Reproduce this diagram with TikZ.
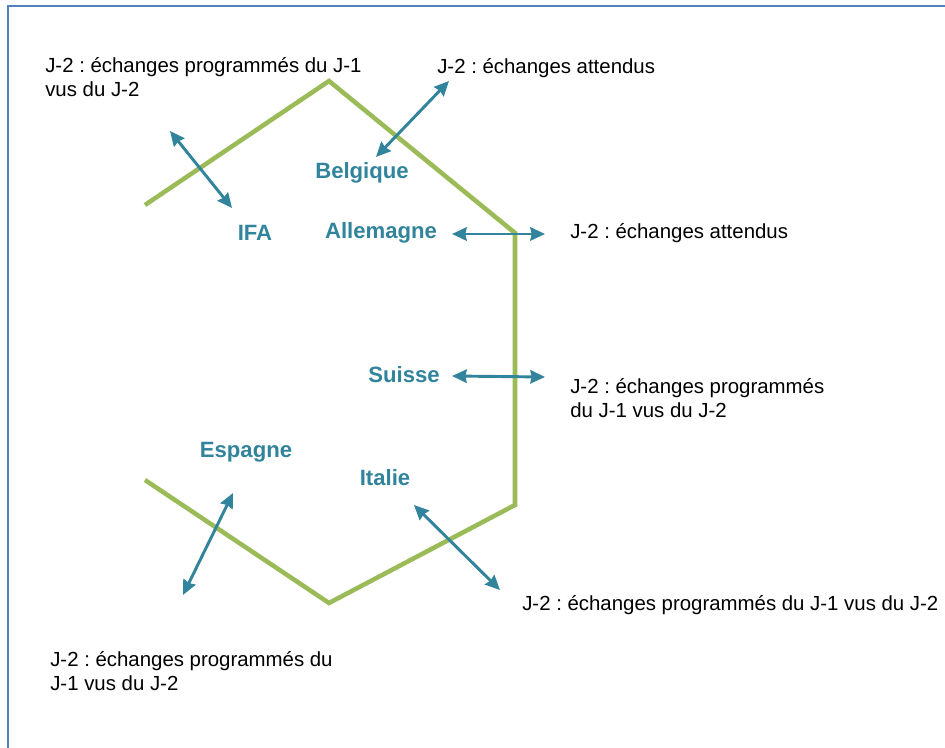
\documentclass[tikz,border=0pt]{standalone}
\usepackage{fontspec}
\setmainfont{Liberation Sans}
\usetikzlibrary{arrows.meta}
\definecolor{frameblue}{HTML}{4F81BD}
\definecolor{lineGreen}{HTML}{9BBB59}
\definecolor{teal}{HTML}{31849B}
\begin{document}
\begin{tikzpicture}[x=0.75pt,y=-0.75pt,
  country/.style={font=\fontsize{16.6}{19}\selectfont\bfseries, text=teal, inner sep=0pt},
  note/.style={font=\fontsize{15.3}{17.5}\selectfont, text=black, inner sep=0pt, align=left, anchor=west},
  flow/.style={draw=teal, line width=2.2pt, {Stealth[length=11pt,width=10pt,inset=1pt]}-{Stealth[length=11pt,width=10pt,inset=1pt]}},
  border/.style={draw=frameblue, line width=1.1pt}
]
\useasboundingbox (0,0) rectangle (945,748);
\fill[white] (0,0) rectangle (945,748);
\draw[border] (8,6) rectangle (980,780);

% green borders
\draw[lineGreen, line width=3.4pt, line join=miter] (145,205) -- (329,81) -- (515,233) -- (515,505) -- (329,603) -- (145,480);

% countries
\node[country] (bel) at (362,173) {Belgique};
\node[country] (ifa) at (255,233) {IFA};
\node[country] (all) at (381,233) {Allemagne};
\node[country] (sui) at (404,375) {Suisse};
\node[country] (esp) at (246,452) {Espagne};
\node[country] (ita) at (385,478) {Italie};

% notes
\node[note] (n1) at (45,77) {J-2 :\ échanges programmés du J-1\\vus du J-2};
\node[note] (n2) at (437,68) {J-2 :\ échanges attendus};
\node[note] (n3) at (570,233) {J-2 :\ échanges attendus};
\node[note] (n4) at (570,398) {J-2 :\ échanges programmés\\du J-1 vus du J-2};
\node[note] (n5) at (522,605) {J-2 :\ échanges programmés du J-1 vus du J-2};
\node[note] (n6) at (50,671) {J-2 :\ échanges programmés du\\J-1 vus du J-2};

% arrow ends
\coordinate (a1) at (170,131);
\coordinate (a2) at (232,208);
\coordinate (b1) at (376,157);
\coordinate (b2) at (449,81);
\coordinate (c1) at (452,234);
\coordinate (c2) at (545,234);
\coordinate (d1) at (452,376);
\coordinate (d2) at (545,377);
\coordinate (e1) at (414,505);
\coordinate (e2) at (500,590);
\coordinate (f1) at (233,493);
\coordinate (f2) at (183,595);

\draw[flow] (a1) -- (a2);
\draw[flow] (b1) -- (b2);
\draw[flow] (c1) -- (c2);
\draw[flow] (d1) -- (d2);
\draw[flow] (e1) -- (e2);
\draw[flow] (f1) -- (f2);
\end{tikzpicture}
\end{document}
